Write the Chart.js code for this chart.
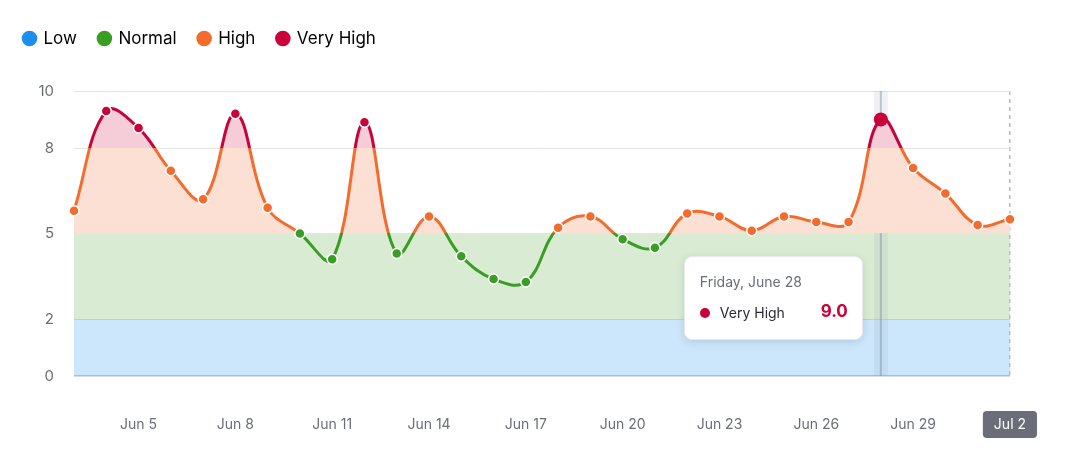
<!DOCTYPE html>
<html>
<head>
<meta charset="utf-8">
<script src="https://cdn.jsdelivr.net/npm/chart.js@4.4.1/dist/chart.umd.min.js"></script>
<style>
    html, body { margin: 0; padding: 0; background: #ffffff; }
    #wrap { position: relative; width: 1066px; height: 464px; }
    #tip {
        position: absolute;
        width: 179px;
        height: 84px;
        box-sizing: border-box;
        background: #ffffff;
        border: 1px solid #e8e9ec;
        border-radius: 8px;
        box-shadow: 0 2px 8px rgba(0, 0, 0, 0.12);
        font-family: Inter, 'Noto Sans', sans-serif;
        pointer-events: none;
        opacity: 0;
    }
    #tip .title { position: absolute; left: 15px; top: 16px; font-size: 14px; color: #6b6e78; }
    #tip .dot { position: absolute; left: 15px; top: 51px; width: 10px; height: 10px; border-radius: 50%; }
    #tip .name { position: absolute; left: 35px; top: 47px; font-size: 14px; color: #2b2d33; }
    #tip .val { position: absolute; right: 14px; top: 44px; font-size: 17px; font-weight: 700; }
</style>
</head>
<body>
<div id="wrap">
    <canvas id="canvas1" width="1066" height="464"></canvas>
    <div id="tip"><div class="title"></div><div class="dot"></div><div class="name"></div><div class="val"></div></div>
</div>
<script>
// Daily readings, Jun 3 - Jul 2
const dates = [
    '2024-06-03', '2024-06-04', '2024-06-05', '2024-06-06', '2024-06-07', '2024-06-08',
    '2024-06-09', '2024-06-10', '2024-06-11', '2024-06-12', '2024-06-13', '2024-06-14',
    '2024-06-15', '2024-06-16', '2024-06-17', '2024-06-18', '2024-06-19', '2024-06-20',
    '2024-06-21', '2024-06-22', '2024-06-23', '2024-06-24', '2024-06-25', '2024-06-26',
    '2024-06-27', '2024-06-28', '2024-06-29', '2024-06-30', '2024-07-01', '2024-07-02'
]
const values = [
    5.8, 9.3, 8.7, 7.2, 6.2, 9.2,
    5.9, 5.0, 4.1, 8.9, 4.3, 5.6,
    4.2, 3.4, 3.3, 5.2, 5.6, 4.8,
    4.5, 5.7, 5.6, 5.1, 5.6, 5.4,
    5.4, 9.0, 7.3, 6.4, 5.3, 5.5
]
const yTicks = [0, 2, 5, 8, 10]

// Levels: name, lower bound, upper bound
const levelNames = ['Low', 'Normal', 'High', 'Very High']
const levelFrom = [0, 2, 5, 8]
const levelTo = [2, 5, 8, 10]

const levelColors = ['#1a8ff0', '#3b9e24', '#f36c2e', '#c9023a']
const bandColors = ['#cce6fb', '#d9ecd3', null, null]
const fillColors = [null, null, '#fde0d4', '#f4cdd9']

const activeIndex = 25
const FONT = "Inter, 'Noto Sans', sans-serif"
const X_TICK_PAD = 40
const X_TICK_FONT = 14

function levelOf(v) {
    if (v > 8) return 3
    if (v > 5) return 2
    if (v > 2) return 1
    return 0
}

function shortLabel(iso) {
    const d = new Date(iso + 'T12:00:00')
    return d.toLocaleDateString('en-US', { month: 'short', day: 'numeric' })
}

function longLabel(iso) {
    const d = new Date(iso + 'T12:00:00')
    return d.toLocaleDateString('en-US', { weekday: 'long', month: 'long', day: 'numeric' })
}

// Hard-stop vertical gradient following the level thresholds
function levelGradient(chart, colors) {
    const { ctx, chartArea, scales } = chart
    if (!chartArea) return null
    const y = scales.y
    const top = y.getPixelForValue(y.max)
    const bottom = y.getPixelForValue(y.min)
    const g = ctx.createLinearGradient(0, top, 0, bottom)
    const off = v => Math.min(1, Math.max(0, (y.getPixelForValue(v) - top) / (bottom - top)))
    for (let i = levelNames.length - 1; i >= 0; i--) {
        const c = colors[i] || 'rgba(255,255,255,0)'
        g.addColorStop(off(levelTo[i]), c)
        g.addColorStop(off(levelFrom[i]), c)
    }
    return g
}

// Extra room under the legend
const legendGapPlugin = {
    id: 'legendGap',
    beforeInit(chart) {
        const fit = chart.legend.fit
        chart.legend.fit = function () {
            fit.bind(chart.legend)()
            this.height += 34
        }
    }
}

// Background bands for Low / Normal, plus rounded badge behind last x label
const bandsPlugin = {
    id: 'bands',
    beforeDraw(chart) {
        const { ctx, chartArea, scales } = chart
        const y = scales.y
        ctx.save()
        for (let i = 0; i < levelNames.length; i++) {
            if (!bandColors[i]) continue
            const y1 = y.getPixelForValue(levelTo[i])
            const y2 = y.getPixelForValue(levelFrom[i])
            ctx.fillStyle = bandColors[i]
            ctx.fillRect(chartArea.left, y1, chartArea.right - chartArea.left, y2 - y1)
        }

        const x = scales.x
        const cx = x.getPixelForValue(lastIndex)
        const cy = x.top + X_TICK_PAD + X_TICK_FONT * 1.2 / 2
        ctx.font = X_TICK_FONT + 'px ' + FONT
        const w = ctx.measureText(chart.data.labels[lastIndex]).width + 22
        const h = 27
        ctx.fillStyle = '#6b6e78'
        ctx.beginPath()
        ctx.roundRect(cx - w / 2, cy - h / 2, w, h, 4)
        ctx.fill()
        ctx.restore()
    }
}

// Hover column behind the active point
const hoverPlugin = {
    id: 'hoverColumn',
    beforeDatasetsDraw(chart) {
        const active = chart.getActiveElements()
        if (!active.length) return
        const x = active[0].element.x
        const { ctx, chartArea } = chart
        ctx.save()
        ctx.fillStyle = 'rgba(140, 160, 185, 0.14)'
        ctx.fillRect(x - 7, chartArea.top, 14, chartArea.bottom - chartArea.top)
        ctx.strokeStyle = 'rgba(110, 130, 150, 0.4)'
        ctx.lineWidth = 2
        ctx.beginPath()
        ctx.moveTo(x, chartArea.top)
        ctx.lineTo(x, chartArea.bottom)
        ctx.stroke()
        ctx.restore()
    }
}

function externalTooltip(context) {
    const { chart, tooltip } = context
    const el = document.getElementById('tip')
    if (tooltip.opacity === 0 || !tooltip.dataPoints || !tooltip.dataPoints.length) {
        el.style.opacity = 0
        return
    }
    const dp = tooltip.dataPoints[0]
    const v = dp.parsed.y
    const lvl = levelOf(v)
    el.querySelector('.title').textContent = longLabel(dates[dp.dataIndex]).replace(/^(\w+) /, '$1, ')
    el.querySelector('.dot').style.background = levelColors[lvl]
    el.querySelector('.name').textContent = levelNames[lvl]
    const val = el.querySelector('.val')
    val.textContent = v.toFixed(1)
    val.style.color = levelColors[lvl]
    el.style.left = (chart.canvas.offsetLeft + tooltip.caretX - 18 - 179) + 'px'
    el.style.top = (chart.canvas.offsetTop + chart.chartArea.bottom - 120) + 'px'
    el.style.opacity = 1
}

const lastIndex = dates.length - 1

const config = {
    type: 'line',
    data: {
        labels: dates.map(shortLabel),
        datasets: [{
            label: 'Value',
            data: values,
            tension: 0.4,
            borderWidth: 3,
            borderColor: ctx => levelGradient(ctx.chart, levelColors),
            backgroundColor: ctx => levelGradient(ctx.chart, fillColors),
            fill: { value: 5 },
            pointRadius: 5,
            pointHoverRadius: 7,
            pointBorderWidth: 1.5,
            pointHoverBorderWidth: 0,
            pointBorderColor: '#ffffff',
            pointBackgroundColor: ctx => levelColors[levelOf(ctx.raw)],
            pointHoverBackgroundColor: ctx => levelColors[levelOf(ctx.raw)]
        }]
    },
    options: {
        responsive: false,
        animation: false,
        events: [],
        layout: {
            padding: { top: 8, left: 2, right: 56, bottom: 0 }
        },
        plugins: {
            legend: {
                display: true,
                position: 'top',
                align: 'start',
                labels: {
                    color: '#2b2d33',
                    font: { size: 17, family: FONT },
                    usePointStyle: true,
                    pointStyle: 'circle',
                    boxWidth: 11,
                    boxHeight: 11,
                    padding: 22,
                    generateLabels: () => levelNames.map((name, i) => ({
                        text: name,
                        fillStyle: levelColors[i],
                        strokeStyle: levelColors[i],
                        lineWidth: 0,
                        pointStyle: 'circle',
                        hidden: false,
                        datasetIndex: 0
                    }))
                }
            },
            tooltip: {
                enabled: false,
                mode: 'index',
                intersect: false,
                external: externalTooltip
            }
        },
        scales: {
            x: {
                offset: false,
                // border.dash also dashes the grid lines (only Jul 2 is visible)
                border: { display: false, dash: [4, 4] },
                afterFit: axis => { axis.height = 88 },
                grid: {
                    drawTicks: false,
                    color: ctx => ctx.index === lastIndex ? '#b9bcc2' : 'rgba(0,0,0,0)',
                    lineWidth: 1.5
                },
                ticks: {
                    autoSkip: false,
                    maxRotation: 0,
                    padding: X_TICK_PAD,
                    color: ctx => ctx.index === lastIndex ? '#ffffff' : '#6b6e78',
                    font: { size: X_TICK_FONT, family: FONT },
                    callback: function (value, index) {
                        return (index - 2) % 3 === 0 ? this.getLabelForValue(value) : ''
                    }
                }
            },
            y: {
                min: 0,
                max: 10,
                border: { display: false },
                afterFit: axis => { axis.width = 72 },
                afterBuildTicks: axis => { axis.ticks = yTicks.map(v => ({ value: v })) },
                grid: {
                    drawTicks: false,
                    lineWidth: ctx => ctx.tick.value === 0 ? 1.5 : 1,
                    color: ctx => {
                        if (ctx.tick.value === 0) return '#a9bcd6'
                        if (ctx.tick.value === 2) return 'rgba(150, 185, 220, 0.45)'
                        return '#e4e5e8'
                    }
                },
                ticks: {
                    padding: 20,
                    color: '#6b6e78',
                    font: { size: 15, family: FONT }
                }
            }
        }
    },
    plugins: [legendGapPlugin, bandsPlugin, hoverPlugin]
}

const canvas = document.getElementById('canvas1')
const chart = new Chart(canvas.getContext('2d'), config)

chart.setActiveElements([{ datasetIndex: 0, index: activeIndex }])
chart.tooltip.setActiveElements([{ datasetIndex: 0, index: activeIndex }], { x: 0, y: 0 })
chart.update('none')
</script>
</body>
</html>
